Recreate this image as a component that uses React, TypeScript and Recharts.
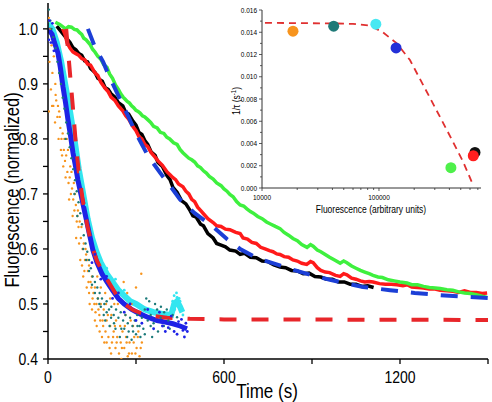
import React from "react";
import {
  ComposedChart,
  Line,
  Scatter,
  XAxis,
  YAxis,
} from "recharts";

// ---- main panel: normalized fluorescence vs time (t in s, v normalized) ----
const orangeDots = [
  [3, 1.02], [8, 1.0], [12, 0.97], [5, 0.94], [15, 0.92], [10, 0.89], [20, 0.95], [25, 0.9], [18, 0.86],
  [28, 0.87], [32, 0.84], [3, 0.85], [38, 0.85], [42, 0.82], [46, 0.8], [50, 0.81], [54, 0.78], [58, 0.76],
  [62, 0.77], [66, 0.74], [70, 0.72], [74, 0.73], [78, 0.7], [82, 0.71], [86, 0.69], [90, 0.67], [95, 0.68],
  [100, 0.66], [104, 0.64], [108, 0.65], [112, 0.62], [118, 0.6], [122, 0.61], [126, 0.58], [130, 0.59],
  [136, 0.56], [140, 0.57], [145, 0.54], [150, 0.55], [155, 0.52], [160, 0.53], [165, 0.5], [170, 0.51],
  [175, 0.48], [180, 0.5], [186, 0.47], [190, 0.49], [196, 0.45], [200, 0.47], [206, 0.44], [212, 0.46],
  [218, 0.43], [224, 0.45], [230, 0.42], [236, 0.44], [242, 0.41], [248, 0.43], [254, 0.45], [260, 0.42],
  [266, 0.44], [272, 0.405], [278, 0.43], [286, 0.41], [294, 0.44], [302, 0.42], [312, 0.405], [320, 0.43],
  [258, 0.54], [270, 0.52], [285, 0.5], [300, 0.53], [318, 0.555], [240, 0.52], [226, 0.5], [212, 0.51],
  [195, 0.52], [180, 0.53], [168, 0.55], [120, 0.55], [140, 0.52], [110, 0.58], [150, 0.49], [96, 0.62],
  [84, 0.66], [72, 0.69], [60, 0.73], [48, 0.77], [36, 0.8], [24, 0.83], [14, 0.86], [132, 0.53], [160, 0.47],
  [176, 0.45], [200, 0.43], [215, 0.41], [250, 0.4], [232, 0.47], [264, 0.48], [290, 0.46], [308, 0.45],
  [64, 0.8], [68, 0.78], [76, 0.75], [80, 0.74], [88, 0.72], [92, 0.7], [98, 0.65], [102, 0.67], [106, 0.61],
  [114, 0.64], [116, 0.57], [124, 0.56], [128, 0.6], [134, 0.58], [138, 0.54], [142, 0.5], [148, 0.53],
  [152, 0.51], [158, 0.5], [162, 0.485], [166, 0.46], [172, 0.49], [178, 0.47], [184, 0.44], [188, 0.46],
  [192, 0.43], [198, 0.5], [204, 0.48], [210, 0.42], [216, 0.48], [222, 0.44], [228, 0.46], [234, 0.43],
  [238, 0.5], [246, 0.46], [252, 0.42], [262, 0.46], [268, 0.43], [276, 0.41], [282, 0.47], [292, 0.43],
  [298, 0.41], [306, 0.44], [316, 0.42], [26, 0.88], [34, 0.86], [40, 0.84], [44, 0.78], [52, 0.75], [56, 0.8],
];

const tealDots = [
  [3, 1.035], [8, 1.015], [12, 1.0], [18, 0.985], [26, 0.965], [32, 0.94], [38, 0.92], [44, 0.9], [50, 0.875],
  [56, 0.855], [62, 0.83], [68, 0.81], [74, 0.785], [80, 0.765], [86, 0.745], [92, 0.725], [98, 0.705],
  [104, 0.685], [110, 0.665], [116, 0.645], [122, 0.625], [128, 0.61], [134, 0.595], [140, 0.58], [146, 0.565],
  [152, 0.55], [160, 0.54], [168, 0.53], [176, 0.52], [184, 0.51], [192, 0.5], [200, 0.505], [208, 0.49],
  [216, 0.495], [224, 0.48], [232, 0.49], [240, 0.475], [248, 0.485], [256, 0.47], [264, 0.48], [272, 0.465],
  [280, 0.475], [288, 0.46], [296, 0.47], [304, 0.48], [312, 0.46], [320, 0.475], [330, 0.49], [340, 0.47],
  [350, 0.48], [360, 0.465], [372, 0.49], [384, 0.475], [396, 0.485], [410, 0.47], [425, 0.48], [440, 0.476],
  [150, 0.535], [175, 0.5], [200, 0.485], [225, 0.465], [250, 0.455], [275, 0.45], [300, 0.445], [325, 0.455],
  [350, 0.46], [375, 0.45], [345, 0.505], [365, 0.5], [385, 0.495], [335, 0.51], [60, 0.8], [90, 0.7],
  [120, 0.6], [140, 0.56], [170, 0.51], [190, 0.48], [215, 0.475], [260, 0.455], [290, 0.45], [315, 0.44],
  [180, 0.495], [195, 0.47], [210, 0.46], [230, 0.455], [245, 0.44], [270, 0.44], [285, 0.435], [305, 0.46],
  [330, 0.445], [355, 0.44], [395, 0.46], [405, 0.49], [415, 0.455], [160, 0.52], [130, 0.58], [100, 0.66],
];

const cyanTrace = [
  [0, 1.01], [15, 1.0], [30, 0.975], [45, 0.94], [60, 0.895], [75, 0.85], [90, 0.8], [105, 0.745], [120, 0.7],
  [135, 0.655], [150, 0.62], [165, 0.595], [180, 0.575], [200, 0.555], [220, 0.54], [240, 0.525], [260, 0.515],
  [280, 0.505], [300, 0.5], [330, 0.49], [360, 0.485], [390, 0.482], [420, 0.48], [430, 0.5], [440, 0.505],
  [450, 0.495], [458, 0.485],
];

const cyanDots = [
  [425, 0.505], [430, 0.515], [435, 0.5], [440, 0.512], [445, 0.495], [450, 0.505], [455, 0.49], [460, 0.48],
  [432, 0.49], [438, 0.52], [447, 0.51], [200, 0.565], [230, 0.545], [260, 0.525], [110, 0.74], [130, 0.68],
];

const blueTrace = [
  [0, 1.0], [7, 0.995], [14, 0.99], [22, 0.975], [34, 0.956], [42, 0.93], [51, 0.895], [60, 0.865], [68, 0.835],
  [77, 0.805], [85, 0.775], [94, 0.75], [102, 0.725], [114, 0.695], [126, 0.665], [140, 0.63], [153, 0.598],
  [167, 0.575], [184, 0.555], [201, 0.54], [220, 0.525], [240, 0.51], [260, 0.5], [285, 0.49], [314, 0.482],
  [340, 0.476], [372, 0.47], [400, 0.467], [426, 0.464], [450, 0.46], [474, 0.455],
];

const blueDots = [
  [320, 0.465], [340, 0.49], [360, 0.455], [380, 0.485], [400, 0.45], [420, 0.478], [440, 0.445], [455, 0.472],
  [465, 0.44], [470, 0.465], [475, 0.45], [300, 0.47], [280, 0.5], [260, 0.485], [240, 0.52], [220, 0.51],
  [200, 0.55], [180, 0.545], [160, 0.59], [150, 0.575], [5, 1.015], [10, 0.975], [15, 1.01], [20, 0.96],
  [3, 0.98], [390, 0.46], [410, 0.457], [430, 0.45], [445, 0.468], [460, 0.452],
];

const blackTrace = [
  [30, 1.005], [45, 0.995], [60, 0.985], [75, 0.975], [85, 0.966], [95, 0.962], [105, 0.955], [115, 0.952],
  [125, 0.942], [135, 0.94], [145, 0.928], [160, 0.921], [170, 0.91], [185, 0.905], [195, 0.893], [205, 0.89],
  [215, 0.882], [228, 0.876], [240, 0.866], [255, 0.86], [265, 0.848], [275, 0.845], [290, 0.832], [300, 0.825],
  [310, 0.812], [320, 0.808], [330, 0.797], [340, 0.79], [352, 0.776], [365, 0.77], [375, 0.757], [390, 0.75],
  [406, 0.733], [416, 0.726], [426, 0.712], [440, 0.703], [455, 0.688], [470, 0.682], [484, 0.67], [494, 0.66],
  [505, 0.658], [520, 0.645], [530, 0.642], [545, 0.628], [563, 0.62], [575, 0.61], [590, 0.607], [605, 0.604],
  [620, 0.598], [640, 0.596], [655, 0.59], [670, 0.592], [690, 0.585], [710, 0.584], [730, 0.578], [750, 0.577],
  [770, 0.571], [791, 0.567], [810, 0.566], [830, 0.561], [850, 0.56], [870, 0.555], [890, 0.556], [910, 0.55],
  [930, 0.549], [950, 0.545], [970, 0.545], [990, 0.54], [1010, 0.54], [1030, 0.536], [1050, 0.536],
  [1070, 0.532], [1090, 0.533], [1110, 0.53],
];

const redTrace = [
  [50, 1.0], [58, 0.99], [65, 0.975], [75, 0.965], [85, 0.958], [95, 0.955], [105, 0.952], [115, 0.946],
  [125, 0.944], [135, 0.936], [145, 0.934], [160, 0.92], [170, 0.915], [180, 0.903], [195, 0.892], [205, 0.886],
  [215, 0.876], [228, 0.87], [240, 0.86], [255, 0.851], [265, 0.842], [275, 0.836], [290, 0.822], [300, 0.815],
  [310, 0.804], [320, 0.8], [330, 0.79], [340, 0.786], [352, 0.775], [365, 0.767], [375, 0.76], [390, 0.752],
  [406, 0.74], [416, 0.735], [425, 0.73], [435, 0.726], [445, 0.718], [460, 0.713], [470, 0.705], [480, 0.7],
  [490, 0.69], [500, 0.686], [510, 0.676], [520, 0.67], [530, 0.664], [545, 0.655], [563, 0.648], [575, 0.642],
  [590, 0.641], [605, 0.636], [620, 0.635], [640, 0.63], [655, 0.628], [665, 0.62], [680, 0.618], [695, 0.612],
  [710, 0.61], [725, 0.603], [740, 0.6], [755, 0.597], [767, 0.595], [780, 0.591], [791, 0.59], [805, 0.586],
  [820, 0.585], [835, 0.58], [850, 0.578], [865, 0.574], [882, 0.572], [895, 0.577], [904, 0.575], [918, 0.566],
  [930, 0.561], [945, 0.558], [960, 0.557], [980, 0.552], [996, 0.55], [1008, 0.555], [1019, 0.553],
  [1035, 0.547], [1050, 0.545], [1065, 0.542], [1080, 0.54], [1095, 0.541], [1108, 0.54], [1130, 0.537],
  [1150, 0.536], [1170, 0.536], [1190, 0.535], [1210, 0.533], [1224, 0.535], [1240, 0.531], [1260, 0.53],
  [1280, 0.529], [1300, 0.527], [1320, 0.527], [1337, 0.525], [1360, 0.524], [1380, 0.523], [1400, 0.521],
  [1420, 0.524], [1440, 0.521], [1460, 0.521], [1480, 0.519], [1497, 0.52],
];

const greenTrace = [
  [25, 1.012], [40, 1.008], [60, 1.0], [70, 1.004], [80, 1.003], [90, 0.999], [99, 0.998], [108, 0.993],
  [115, 0.99], [122, 0.983], [130, 0.98], [143, 0.972], [152, 0.963], [160, 0.958], [170, 0.95], [180, 0.945],
  [190, 0.935], [201, 0.93], [210, 0.918], [220, 0.91], [230, 0.898], [240, 0.89], [248, 0.882], [256, 0.876],
  [263, 0.872], [270, 0.868], [278, 0.865], [285, 0.86], [292, 0.857], [300, 0.852], [307, 0.85], [314, 0.847],
  [322, 0.842], [330, 0.84], [340, 0.835], [350, 0.83], [360, 0.823], [372, 0.82], [383, 0.812], [395, 0.81],
  [405, 0.803], [415, 0.8], [428, 0.793], [440, 0.79], [450, 0.781], [460, 0.775], [470, 0.77], [480, 0.765],
  [490, 0.762], [500, 0.758], [510, 0.751], [520, 0.748], [530, 0.742], [540, 0.738], [550, 0.732], [563, 0.727],
  [575, 0.72], [590, 0.715], [600, 0.709], [610, 0.705], [620, 0.699], [631, 0.695], [643, 0.686], [655, 0.68],
  [667, 0.678], [678, 0.673], [690, 0.668], [700, 0.665], [715, 0.659], [730, 0.655], [745, 0.649], [760, 0.645],
  [775, 0.641], [791, 0.637], [805, 0.63], [820, 0.625], [835, 0.619], [850, 0.615], [865, 0.608], [883, 0.603],
  [895, 0.608], [904, 0.605], [918, 0.598], [930, 0.595], [945, 0.59], [960, 0.585], [980, 0.579], [996, 0.574],
  [1008, 0.578], [1019, 0.575], [1035, 0.569], [1050, 0.565], [1065, 0.561], [1080, 0.558], [1095, 0.555],
  [1108, 0.552], [1125, 0.549], [1140, 0.548], [1160, 0.544], [1180, 0.542], [1200, 0.54], [1224, 0.538],
  [1240, 0.535], [1260, 0.535], [1280, 0.532], [1300, 0.53], [1320, 0.529], [1337, 0.528], [1360, 0.526],
  [1380, 0.525], [1400, 0.522], [1420, 0.52], [1440, 0.519], [1460, 0.517], [1480, 0.514], [1497, 0.512],
];

const slowFit = [
  [136, 1.0], [160, 0.967], [188, 0.94], [205, 0.918], [235, 0.884], [270, 0.845], [300, 0.81], [340, 0.77],
  [380, 0.74], [420, 0.712], [450, 0.69], [500, 0.665], [563, 0.64], [610, 0.618], [655, 0.6], [700, 0.587],
  [733, 0.58], [790, 0.57], [849, 0.56], [900, 0.552], [961, 0.544], [1020, 0.537], [1074, 0.531],
  [1166, 0.525], [1250, 0.52], [1337, 0.516], [1420, 0.513], [1500, 0.511],
];

const fastFit = [
  [62, 1.0], [70, 0.95], [78, 0.9], [86, 0.85], [95, 0.79], [105, 0.74], [118, 0.69], [133, 0.645], [150, 0.605],
  [167, 0.578], [185, 0.56], [201, 0.545], [218, 0.53], [235, 0.515], [260, 0.5], [290, 0.489], [320, 0.483],
  [350, 0.479], [406, 0.475], [484, 0.473], [600, 0.472], [1500, 0.471],
];

const timeTicks = [0, 300, 600, 900, 1200, 1500];
const normTicks = [0.4, 0.45, 0.5, 0.55, 0.6, 0.65, 0.7, 0.75, 0.8, 0.85, 0.9, 0.95, 1.0];

// ---- inset: 1/tau vs fluorescence ----
const insetFluor = [18400, 41000, 94000, 140000, 412000, 661500, 640000];
const insetRate = [0.0141, 0.01455, 0.01473, 0.01259, 0.00183, 0.0032, 0.0029];
const insetColors = ["#f7941d", "#1f7a78", "#48e8f2", "#2430d8", "#4ef04a", "#111111", "#ff1f1f"];
const insetFitF = [10600, 20000, 38000, 60000, 83600, 108000, 142000, 184000, 273000, 381000, 522000, 636000];
const insetFitR = [0.01485, 0.01482, 0.0148, 0.01475, 0.0146, 0.014, 0.013, 0.0115, 0.0081, 0.0052, 0.0024, 0.0003];
const fluorTicks = [
  10000, 20000, 30000, 40000, 50000, 60000, 70000, 80000, 90000,
  100000, 200000, 300000, 400000, 500000, 600000, 700000,
];
const rateTicks = [
  0, 0.001, 0.002, 0.003, 0.004, 0.005, 0.006, 0.007, 0.008, 0.009, 0.01, 0.011, 0.012, 0.013, 0.014, 0.015, 0.016,
];

const FONT = "'Liberation Sans', Arial, Helvetica, sans-serif";

const toPts = (arr: number[][]) => arr.map(([t, v]) => ({ t, v }));

const dot = (color: string, r: number) => (p: any) =>
  <circle cx={p.cx} cy={p.cy} r={r} fill={color} />;

// tick renderers (tickSize/tickMargin are 0, so x/y sit on the axis line)
const MainXTick = ({ x, y, payload }: any) => {
  const major = payload.value % 600 === 0;
  return (
    <g>
      <line x1={x} x2={x} y1={y} y2={y + 5} stroke="#000" strokeWidth={1.3} />
      {major && (
        <text transform={`translate(${x} ${y + 24}) scale(1 1.2)`} textAnchor="middle" fontSize={14} fontFamily={FONT} fill="#000">
          {payload.value}
        </text>
      )}
    </g>
  );
};

const MainYTick = ({ x, y, payload }: any) => {
  const major = Math.round(payload.value * 100) % 10 === 0;
  return (
    <g>
      <line x1={x - 5} x2={x} y1={y} y2={y} stroke="#000" strokeWidth={1.3} />
      {major && (
        <text transform={`translate(${x - 10} ${y + 6}) scale(1 1.2)`} textAnchor="end" fontSize={14} fontFamily={FONT} fill="#000">
          {payload.value.toFixed(1)}
        </text>
      )}
    </g>
  );
};

const InsetXTick = ({ x, y, payload }: any) => {
  const major = payload.value === 10000 || payload.value === 100000;
  return (
    <g>
      <line x1={x} x2={x} y1={y} y2={y + (major ? 3 : 2)} stroke="#333" strokeWidth={0.8} />
      {major && (
        <text transform={`translate(${x} ${y + 12}) scale(1 1.2)`} textAnchor="middle" fontSize={6.5} fontFamily={FONT} fill="#000">
          {payload.value}
        </text>
      )}
    </g>
  );
};

const InsetYTick = ({ x, y, payload }: any) => {
  const major = Math.round(payload.value * 1000) % 2 === 0;
  return (
    <g>
      <line x1={x - (major ? 3 : 2)} x2={x} y1={y} y2={y} stroke="#333" strokeWidth={0.8} />
      {major && (
        <text transform={`translate(${x - 5} ${y + 2.5}) scale(1 1.2)`} textAnchor="end" fontSize={6.5} fontFamily={FONT} fill="#000">
          {payload.value.toFixed(3)}
        </text>
      )}
    </g>
  );
};

export default function App() {
  const insetPoints = insetFluor.map((f, i) => ({ f, r: insetRate[i], c: insetColors[i] }));
  const insetFit = insetFitF.map((f, i) => ({ f, r: insetFitR[i] }));

  return (
    <div style={{ position: "fixed", left: 0, top: 0, width: 492, height: 402, background: "#fff" }}>
      <ComposedChart width={492} height={402} margin={{ top: 3, right: 4, left: 0, bottom: 0 }}>
        <XAxis
          dataKey="t"
          type="number"
          domain={[0, 1500]}
          ticks={timeTicks}
          interval={0}
          height={43}
          tickSize={0}
          tickMargin={0}
          tickLine={false}
          tick={<MainXTick />}
          axisLine={{ stroke: "#000", strokeWidth: 1.5 }}
          allowDataOverflow
        />
        <XAxis xAxisId="top" orientation="top" type="number" domain={[0, 1500]} height={0} tick={false} tickLine={false} axisLine={{ stroke: "#000", strokeWidth: 1.5 }} />
        <YAxis
          dataKey="v"
          type="number"
          domain={[0.4, 1.047]}
          ticks={normTicks}
          interval={0}
          width={48}
          tickSize={0}
          tickMargin={0}
          tickLine={false}
          tick={<MainYTick />}
          axisLine={{ stroke: "#000", strokeWidth: 1.5 }}
          allowDataOverflow
        />
        <YAxis yAxisId="right" orientation="right" type="number" domain={[0.4, 1.047]} width={0} tick={false} tickLine={false} axisLine={{ stroke: "#000", strokeWidth: 1.5 }} />

        <Scatter data={toPts(orangeDots)} fill="#f7941d" shape={dot("#f7941d", 1.2)} isAnimationActive={false} />
        <Line data={toPts(cyanTrace)} dataKey="v" stroke="#33e6f0" strokeWidth={6} dot={false} isAnimationActive={false} />
        <Scatter data={toPts(cyanDots)} fill="#33e6f0" shape={dot("#33e6f0", 1.4)} isAnimationActive={false} />
        <Scatter data={toPts(tealDots)} fill="#1b7a7a" shape={dot("#1b7a7a", 1.2)} isAnimationActive={false} />
        <Line data={toPts(blueTrace)} dataKey="v" stroke="#1e22e6" strokeWidth={5} dot={false} isAnimationActive={false} />
        <Scatter data={toPts(blueDots)} fill="#1e22e6" shape={dot("#1e22e6", 1.4)} isAnimationActive={false} />

        <Line data={toPts(blackTrace)} dataKey="v" stroke="#000" strokeWidth={3.5} dot={false} isAnimationActive={false} />
        <Line data={toPts(redTrace)} dataKey="v" stroke="#ff1a1a" strokeWidth={3.5} dot={false} isAnimationActive={false} />
        <Line data={toPts(greenTrace)} dataKey="v" stroke="#3ef03e" strokeWidth={3.5} dot={false} isAnimationActive={false} />

        <Line data={toPts(slowFit)} dataKey="v" stroke="#1c3fd6" strokeWidth={4} strokeDasharray="17 13" dot={false} isAnimationActive={false} />
        <Line data={toPts(fastFit)} dataKey="v" stroke="#e8262a" strokeWidth={4} strokeDasharray="17 15" dot={false} isAnimationActive={false} />
      </ComposedChart>

      <div style={{ position: "absolute", left: 225, top: 4, width: 262, height: 214, pointerEvents: "none" }}>
        <ComposedChart width={262} height={214} margin={{ top: 6, right: 6, left: 0, bottom: 0 }}>
          <XAxis
            dataKey="f"
            type="number"
            scale="log"
            domain={[10000, 745000]}
            ticks={fluorTicks}
            interval={0}
            height={30}
            tickSize={0}
            tickMargin={0}
            tickLine={false}
            tick={<InsetXTick />}
            axisLine={{ stroke: "#333", strokeWidth: 1 }}
            allowDataOverflow
          />
          <XAxis xAxisId="top" orientation="top" type="number" scale="log" domain={[10000, 745000]} height={0} tick={false} tickLine={false} axisLine={{ stroke: "#555", strokeWidth: 1 }} />
          <YAxis
            dataKey="r"
            type="number"
            domain={[0, 0.016]}
            ticks={rateTicks}
            interval={0}
            width={37}
            tickSize={0}
            tickMargin={0}
            tickLine={false}
            tick={<InsetYTick />}
            axisLine={{ stroke: "#333", strokeWidth: 1 }}
            allowDataOverflow
          />
          <YAxis yAxisId="right" orientation="right" type="number" domain={[0, 0.016]} width={0} tick={false} tickLine={false} axisLine={{ stroke: "#555", strokeWidth: 1 }} />

          <Scatter
            data={insetPoints}
            fill="#000"
            shape={(p: any) => <circle cx={p.cx} cy={p.cy} r={5.5} fill={p.payload.c} />}
            isAnimationActive={false}
          />
          <Line data={insetFit} dataKey="r" stroke="#e03030" strokeWidth={1.8} strokeDasharray="7 5" dot={false} isAnimationActive={false} />
        </ComposedChart>
      </div>

      {/* axis titles */}
      <svg width={492} height={402} style={{ position: "absolute", left: 0, top: 0, pointerEvents: "none" }}>
        <text transform="translate(267 398) scale(1 1.2)" textAnchor="middle" fontSize={17} fontFamily={FONT} fill="#000">
          Time (s)
        </text>
        <text transform="translate(19 190) rotate(-90) scale(1 1.2)" textAnchor="middle" fontSize={16.5} fontFamily={FONT} fill="#000">
          Fluorescence (normalized)
        </text>
        <text transform="translate(371 213) scale(1 1.2)" textAnchor="middle" fontSize={8.5} fontFamily={FONT} fill="#000">
          Fluorescence (arbitrary units)
        </text>
        <text transform="translate(240 101) rotate(-90) scale(1 1.2)" textAnchor="middle" fontSize={8.5} fontFamily={FONT} fill="#000">
          1/τ (s<tspan dy={-3} fontSize={6}>-1</tspan><tspan dy={3}>)</tspan>
        </text>
      </svg>
    </div>
  );
}
